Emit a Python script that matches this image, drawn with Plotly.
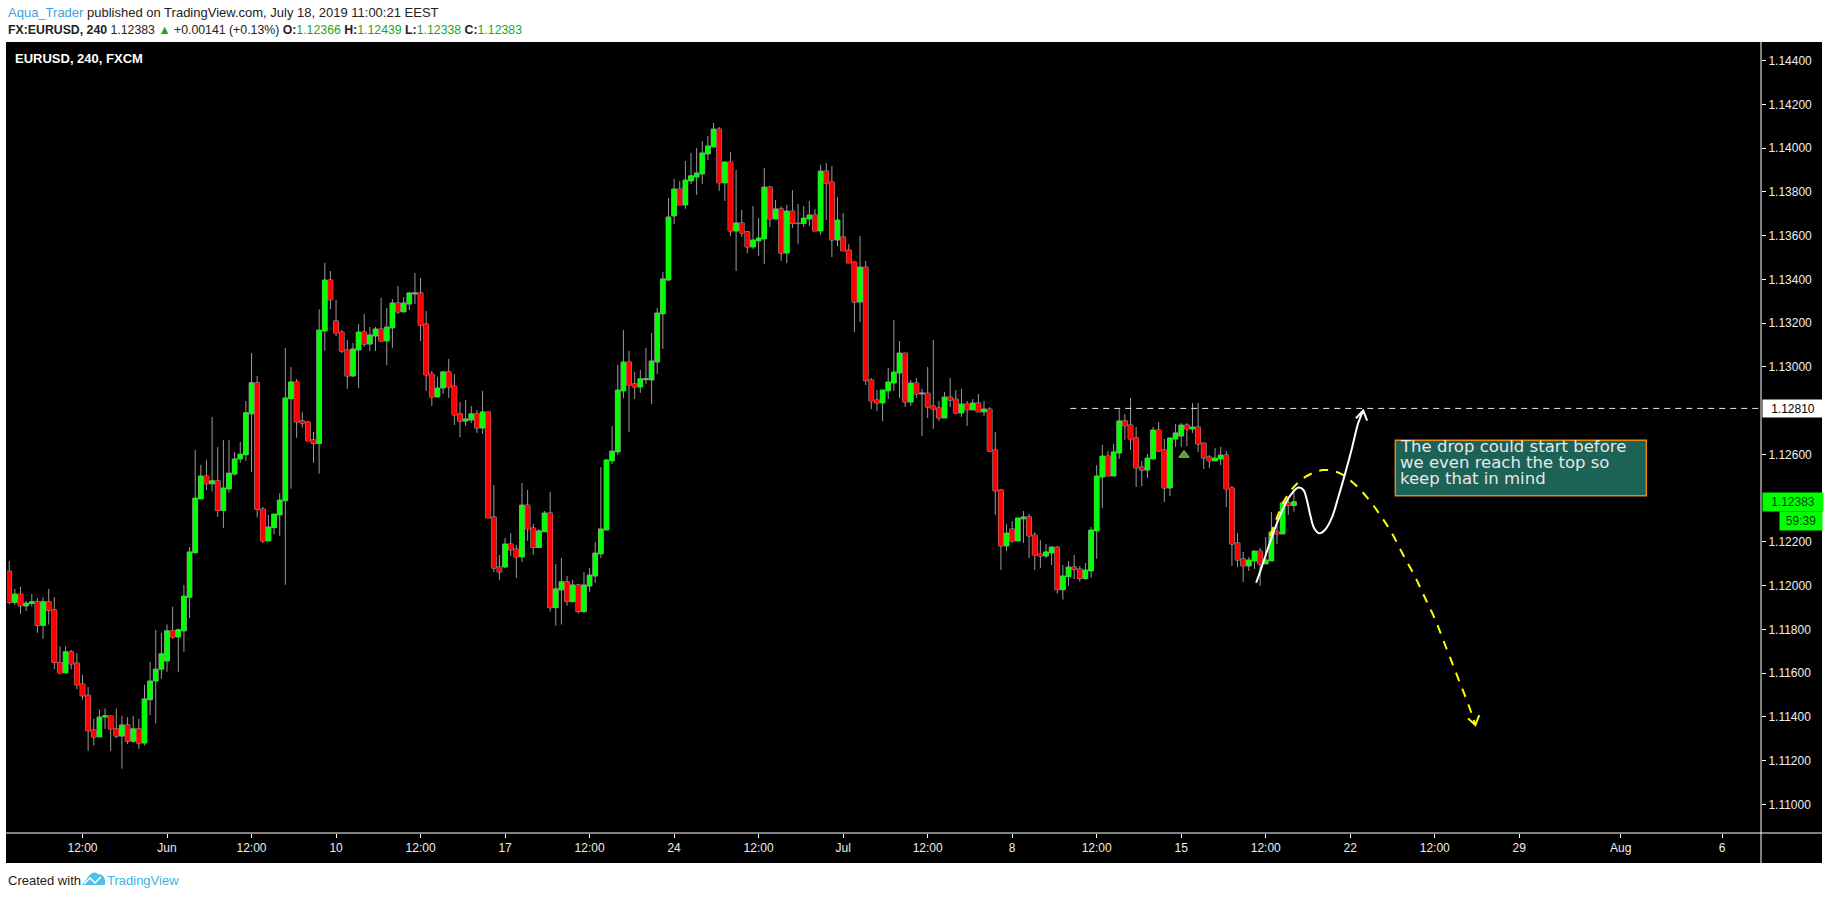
import plotly.graph_objects as go

# EURUSD 4h candles (FXCM), May 27 08:00 -> Jul 18 08:00 2019
opens = [
    1.12066, 1.11923, 1.11961, 1.11907, 1.11918, 1.11926, 1.11818, 1.11926, 1.11889, 1.11648,
    1.11601, 1.11697, 1.11646, 1.11550, 1.11499, 1.11340, 1.11308, 1.11399, 1.11404, 1.11345,
    1.11312, 1.11363, 1.11289, 1.11345, 1.11280, 1.11478, 1.11564, 1.11618, 1.11655, 1.11793,
    1.11765, 1.11793, 1.11947, 1.12150, 1.12396, 1.12501, 1.12465, 1.12479, 1.12343, 1.12442,
    1.12510, 1.12579, 1.12598, 1.12785, 1.12927, 1.12350, 1.12204, 1.12265, 1.12323, 1.12388,
    1.12854, 1.12931, 1.12753, 1.12748, 1.12666, 1.12649, 1.13164, 1.13397, 1.13210, 1.13159,
    1.13077, 1.12958, 1.13077, 1.13159, 1.13104, 1.13141, 1.13173, 1.13118, 1.13178, 1.13292,
    1.13251, 1.13287, 1.13333, 1.13338, 1.13196, 1.12967, 1.12862, 1.12903, 1.12977, 1.12912,
    1.12785, 1.12752, 1.12757, 1.12785, 1.12720, 1.12794, 1.12314, 1.12085, 1.12085, 1.12190,
    1.12167, 1.12131, 1.12368, 1.12263, 1.12174, 1.12246, 1.12332, 1.11899, 1.11980, 1.12017,
    1.11927, 1.12003, 1.11881, 1.11998, 1.12044, 1.12145, 1.12254, 1.12570, 1.12611, 1.12890,
    1.13022, 1.12922, 1.12908, 1.12941, 1.12940, 1.13022, 1.13242, 1.13397, 1.13690, 1.13813,
    1.13740, 1.13850, 1.13868, 1.13882, 1.13973, 1.14005, 1.14087, 1.13841, 1.13936, 1.13621,
    1.13658, 1.13617, 1.13548, 1.13576, 1.13585, 1.13822, 1.13676, 1.13722, 1.13520, 1.13712,
    1.13657, 1.13655, 1.13676, 1.13694, 1.13621, 1.13895, 1.13845, 1.13580, 1.13594, 1.13534,
    1.13479, 1.13296, 1.13456, 1.12940, 1.12848, 1.12835, 1.12890, 1.12926, 1.12972, 1.13063,
    1.12839, 1.12926, 1.12876, 1.12880, 1.12821, 1.12812, 1.12766, 1.12862, 1.12853, 1.12789,
    1.12830, 1.12803, 1.12835, 1.12794, 1.12807, 1.12620, 1.12437, 1.12181, 1.12259, 1.12204,
    1.12305, 1.12314, 1.12231, 1.12144, 1.12135, 1.12149, 1.12176, 1.11981, 1.12041, 1.12085,
    1.12076, 1.12032, 1.12067, 1.12250, 1.12496, 1.12592, 1.12501, 1.12606, 1.12753, 1.12734,
    1.12675, 1.12542, 1.12528, 1.12579, 1.12711, 1.12620, 1.12446, 1.12670, 1.12684, 1.12734,
    1.12716, 1.12725, 1.12652, 1.12588, 1.12570, 1.12579, 1.12597, 1.12446, 1.12195, 1.12122,
    1.12090, 1.12113, 1.12158, 1.12099, 1.12113, 1.12245, 1.12236, 1.12378, 1.12366,
]
highs = [
    1.12113, 1.11985, 1.11994, 1.11930, 1.11961, 1.11943, 1.11947, 1.11985, 1.11947, 1.11723,
    1.11723, 1.11706, 1.11692, 1.11592, 1.11536, 1.11391, 1.11433, 1.11438, 1.11405, 1.11438,
    1.11405, 1.11399, 1.11405, 1.11391, 1.11546, 1.11651, 1.11798, 1.11784, 1.11822, 1.11903,
    1.11804, 1.12003, 1.12176, 1.12620, 1.12552, 1.12575, 1.12771, 1.12633, 1.12666, 1.12666,
    1.12610, 1.12657, 1.12844, 1.13063, 1.12958, 1.12359, 1.12323, 1.12327, 1.12422, 1.13086,
    1.12999, 1.12944, 1.12794, 1.12753, 1.12702, 1.13263, 1.13475, 1.13438, 1.13306, 1.13168,
    1.13123, 1.13109, 1.13196, 1.13242, 1.13182, 1.13182, 1.13315, 1.13269, 1.13310, 1.13370,
    1.13319, 1.13342, 1.13429, 1.13406, 1.13255, 1.12981, 1.12954, 1.12981, 1.13036, 1.12967,
    1.12839, 1.12848, 1.12821, 1.12803, 1.12890, 1.12794, 1.12460, 1.12140, 1.12218, 1.12240,
    1.12186, 1.12469, 1.12437, 1.12282, 1.12259, 1.12341, 1.12428, 1.12099, 1.12126, 1.12044,
    1.12026, 1.12007, 1.12062, 1.12081, 1.12199, 1.12542, 1.12579, 1.12730, 1.13009, 1.13168,
    1.13073, 1.12977, 1.12986, 1.13086, 1.13155, 1.13269, 1.13434, 1.13772, 1.13859, 1.13850,
    1.13941, 1.13978, 1.14000, 1.14032, 1.14055, 1.14115, 1.14096, 1.13941, 1.13982, 1.13900,
    1.13717, 1.13621, 1.13735, 1.13681, 1.13909, 1.13827, 1.13763, 1.13735, 1.13740, 1.13808,
    1.13744, 1.13735, 1.13758, 1.13722, 1.13923, 1.13932, 1.13918, 1.13776, 1.13703, 1.13562,
    1.13484, 1.13598, 1.13484, 1.12949, 1.12894, 1.12894, 1.12995, 1.13214, 1.13118, 1.13063,
    1.12940, 1.12949, 1.12899, 1.12999, 1.13123, 1.12844, 1.12885, 1.12949, 1.12894, 1.12899,
    1.12844, 1.12853, 1.12876, 1.12844, 1.12816, 1.12702, 1.12442, 1.12282, 1.12295, 1.12309,
    1.12341, 1.12327, 1.12245, 1.12208, 1.12190, 1.12181, 1.12181, 1.12094, 1.12112, 1.12140,
    1.12090, 1.12103, 1.12268, 1.12551, 1.12643, 1.12615, 1.12647, 1.12807, 1.12784, 1.12858,
    1.12725, 1.12570, 1.12602, 1.12725, 1.12748, 1.12670, 1.12675, 1.12739, 1.12743, 1.12743,
    1.12835, 1.12835, 1.12652, 1.12597, 1.12629, 1.12634, 1.12615, 1.12455, 1.12240, 1.12154,
    1.12131, 1.12158, 1.12172, 1.12222, 1.12337, 1.12318, 1.12387, 1.12405, 1.12439,
]
lows = [
    1.11915, 1.11912, 1.11870, 1.11884, 1.11904, 1.11784, 1.11757, 1.11822, 1.11618, 1.11594,
    1.11598, 1.11618, 1.11526, 1.11479, 1.11244, 1.11269, 1.11308, 1.11345, 1.11244, 1.11303,
    1.11163, 1.11275, 1.11281, 1.11254, 1.11269, 1.11408, 1.11370, 1.11574, 1.11606, 1.11758,
    1.11606, 1.11697, 1.11852, 1.12150, 1.12396, 1.12437, 1.12430, 1.12314, 1.12264, 1.12425,
    1.12502, 1.12561, 1.12570, 1.12519, 1.12311, 1.12195, 1.12204, 1.12236, 1.12228, 1.12004,
    1.12443, 1.12676, 1.12722, 1.12661, 1.12562, 1.12512, 1.13074, 1.13264, 1.13141, 1.13063,
    1.12899, 1.12954, 1.12903, 1.13091, 1.13072, 1.13072, 1.13114, 1.13008, 1.13086, 1.13242,
    1.13251, 1.13260, 1.13287, 1.13118, 1.12890, 1.12821, 1.12862, 1.12876, 1.12858, 1.12734,
    1.12679, 1.12730, 1.12743, 1.12698, 1.12693, 1.12309, 1.12062, 1.12026, 1.12080, 1.12135,
    1.12035, 1.12108, 1.12204, 1.12141, 1.12174, 1.12246, 1.11881, 1.11817, 1.11822, 1.11908,
    1.11922, 1.11872, 1.11876, 1.11971, 1.12012, 1.12126, 1.12254, 1.12556, 1.12597, 1.12858,
    1.12702, 1.12853, 1.12881, 1.12922, 1.12830, 1.12967, 1.13082, 1.13392, 1.13653, 1.13740,
    1.13722, 1.13836, 1.13786, 1.13836, 1.13946, 1.14005, 1.13804, 1.13758, 1.13598, 1.13438,
    1.13594, 1.13520, 1.13539, 1.13507, 1.13470, 1.13639, 1.13676, 1.13484, 1.13475, 1.13635,
    1.13562, 1.13639, 1.13644, 1.13621, 1.13603, 1.13671, 1.13502, 1.13552, 1.13530, 1.13475,
    1.13159, 1.13205, 1.12917, 1.12807, 1.12798, 1.12752, 1.12853, 1.12890, 1.12858, 1.12816,
    1.12821, 1.12858, 1.12684, 1.12766, 1.12716, 1.12752, 1.12766, 1.12816, 1.12784, 1.12771,
    1.12730, 1.12803, 1.12794, 1.12775, 1.12611, 1.12323, 1.12071, 1.12158, 1.12195, 1.12204,
    1.12195, 1.12126, 1.12071, 1.12080, 1.12126, 1.12094, 1.11963, 1.11936, 1.11999, 1.12030,
    1.12018, 1.12026, 1.12036, 1.12122, 1.12355, 1.12501, 1.12501, 1.12579, 1.12666, 1.12620,
    1.12451, 1.12455, 1.12492, 1.12579, 1.12611, 1.12382, 1.12410, 1.12634, 1.12634, 1.12638,
    1.12698, 1.12611, 1.12533, 1.12538, 1.12570, 1.12551, 1.12359, 1.12090, 1.12085, 1.12017,
    1.12067, 1.12076, 1.11998, 1.12099, 1.12113, 1.12190, 1.12236, 1.12323, 1.12338,
]
closes = [
    1.11923, 1.11961, 1.11907, 1.11920, 1.11926, 1.11818, 1.11926, 1.11886, 1.11648, 1.11601,
    1.11697, 1.11642, 1.11546, 1.11496, 1.11336, 1.11308, 1.11399, 1.11405, 1.11345, 1.11312,
    1.11363, 1.11289, 1.11345, 1.11280, 1.11482, 1.11564, 1.11618, 1.11688, 1.11793, 1.11765,
    1.11798, 1.11952, 1.12154, 1.12400, 1.12501, 1.12465, 1.12479, 1.12343, 1.12446, 1.12514,
    1.12579, 1.12601, 1.12790, 1.12927, 1.12348, 1.12204, 1.12268, 1.12327, 1.12391, 1.12858,
    1.12931, 1.12748, 1.12743, 1.12661, 1.12649, 1.13168, 1.13397, 1.13306, 1.13155, 1.13072,
    1.12958, 1.13082, 1.13159, 1.13104, 1.13146, 1.13173, 1.13118, 1.13182, 1.13292, 1.13251,
    1.13292, 1.13338, 1.13338, 1.13191, 1.12963, 1.12862, 1.12903, 1.12977, 1.12908, 1.12780,
    1.12752, 1.12762, 1.12785, 1.12720, 1.12794, 1.12309, 1.12080, 1.12062, 1.12190, 1.12163,
    1.12131, 1.12368, 1.12259, 1.12174, 1.12250, 1.12332, 1.11899, 1.11985, 1.12017, 1.11927,
    1.12003, 1.11881, 1.12003, 1.12048, 1.12149, 1.12259, 1.12574, 1.12615, 1.12894, 1.13022,
    1.12917, 1.12908, 1.12945, 1.12946, 1.13027, 1.13246, 1.13402, 1.13685, 1.13813, 1.13740,
    1.13854, 1.13873, 1.13886, 1.13978, 1.14010, 1.14087, 1.13841, 1.13936, 1.13621, 1.13658,
    1.13612, 1.13548, 1.13580, 1.13589, 1.13822, 1.13676, 1.13722, 1.13520, 1.13712, 1.13655,
    1.13655, 1.13680, 1.13694, 1.13621, 1.13895, 1.13840, 1.13580, 1.13671, 1.13530, 1.13475,
    1.13296, 1.13456, 1.12937, 1.12844, 1.12835, 1.12894, 1.12931, 1.12976, 1.13063, 1.12839,
    1.12926, 1.12876, 1.12880, 1.12816, 1.12807, 1.12766, 1.12862, 1.12848, 1.12789, 1.12830,
    1.12803, 1.12835, 1.12794, 1.12807, 1.12615, 1.12433, 1.12181, 1.12240, 1.12204, 1.12309,
    1.12314, 1.12227, 1.12140, 1.12135, 1.12154, 1.12176, 1.11981, 1.12044, 1.12085, 1.12073,
    1.12032, 1.12071, 1.12254, 1.12501, 1.12592, 1.12501, 1.12611, 1.12753, 1.12730, 1.12670,
    1.12538, 1.12528, 1.12583, 1.12711, 1.12615, 1.12446, 1.12675, 1.12698, 1.12734, 1.12716,
    1.12725, 1.12647, 1.12583, 1.12570, 1.12583, 1.12597, 1.12442, 1.12190, 1.12117, 1.12090,
    1.12117, 1.12158, 1.12099, 1.12117, 1.12245, 1.12236, 1.12378, 1.12366, 1.12383,
]
bar_index = list(range(len(opens)))

# time scale labels (bar index -> label), future bars continue the same spacing
x_tick_pos = [13, 28, 43, 58, 73, 88, 103, 118, 133, 148, 163, 178, 193, 208, 223, 238, 253, 268, 286, 304]
x_tick_text = ["12:00", "Jun", "12:00", "10", "12:00", "17", "12:00", "24", "12:00", "Jul",
               "12:00", "8", "12:00", "15", "12:00", "22", "12:00", "29", "Aug", "6"]
# 1.12400 and 1.12800 sit under the price-scale labels, so they are not shown
y_tick_vals = [1.110, 1.112, 1.114, 1.116, 1.118, 1.120, 1.122, 1.126,
               1.130, 1.132, 1.134, 1.136, 1.138, 1.140, 1.142, 1.144]

# drawings
level_x = [188.3, 311.0]
level_y = [1.12810, 1.12810]
white_x = [221.3, 222.1, 223.1, 224.1, 225.1, 226.1, 227.3, 228.8, 229.7, 230.3,
           230.9, 231.6, 232.5, 233.5, 234.7, 235.9, 237.1, 238.3, 239.4, 240.3]
white_y = [1.12013, 1.12071, 1.12148, 1.12224, 1.12292, 1.12353, 1.12410, 1.12448, 1.12437, 1.12391,
           1.12323, 1.12262, 1.12239, 1.12254, 1.12308, 1.12406, 1.12513, 1.12628, 1.12742, 1.12800]
white_head_x = [239.0, 240.3, 241.0]
white_head_y = [1.12765, 1.12800, 1.12754]
yellow_x = [223.8, 226.8, 229.7, 233.2, 236.2, 238.6, 240.9, 243.3, 245.4,
            247.4, 249.5, 251.3, 253.1, 254.5, 256.0, 257.5, 259.0, 260.2]
yellow_y = [1.12228, 1.12410, 1.12491, 1.12528, 1.12513, 1.12468, 1.12406, 1.12323, 1.12239,
            1.12140, 1.12041, 1.11942, 1.11843, 1.11751, 1.11652, 1.11553, 1.11454, 1.11363]
yellow_head_x = [258.9, 260.2, 260.9]
yellow_head_y = [1.11393, 1.11363, 1.11408]
marker_x = [208.5]
marker_y = [1.12597]
note_lines = ["The drop could start before", "we even reach the top so", "keep that in mind"]
note_box_x = [246.0, 290.55]
note_box_y = [1.12411, 1.12664]
note_line_y = [1.12637, 1.12561, 1.12488]
last_price = "1.12383"
level_label = "1.12810"
countdown = "59:39"

W, H = 1828, 898
PL, PR, PT, PB = 7, 1761, 42, 833          # plot area in pixels
GREEN, RED, WICK = "#00ff00", "#ff0000", "#9a9a9a"
HEAD_FONT = "Liberation Sans Narrow, Liberation Sans, Arial, sans-serif"


def px(x):
    return (x - PL) / (PR - PL)


def py(y):
    return (PB - y) / (PB - PT)


fig = go.Figure()

# wicks (gray) underneath, then borderless coloured bodies on top
fig.add_trace(go.Candlestick(
    x=bar_index, open=opens, high=highs, low=lows, close=closes,
    increasing=dict(line=dict(color=WICK, width=1), fillcolor=WICK),
    decreasing=dict(line=dict(color=WICK, width=1), fillcolor=WICK),
    whiskerwidth=0, hoverinfo="skip", showlegend=False,
))
fig.add_trace(go.Candlestick(
    x=bar_index, open=opens, high=highs, low=lows, close=closes,
    increasing=dict(line=dict(color=GREEN, width=0), fillcolor=GREEN),
    decreasing=dict(line=dict(color=RED, width=0), fillcolor=RED),
    whiskerwidth=0, hoverinfo="skip", showlegend=False,
))

fig.add_trace(go.Scatter(x=level_x, y=level_y, mode="lines", hoverinfo="skip",
                         line=dict(color="#e8e8e8", width=1, dash="6px,5px"), showlegend=False))
fig.add_trace(go.Scatter(x=yellow_x, y=yellow_y, mode="lines", hoverinfo="skip",
                         line=dict(color="#ffff00", width=2, dash="9px,8px", shape="spline"),
                         showlegend=False))
fig.add_trace(go.Scatter(x=yellow_head_x, y=yellow_head_y, mode="lines", hoverinfo="skip",
                         line=dict(color="#ffff00", width=2), showlegend=False))
fig.add_trace(go.Scatter(x=white_x, y=white_y, mode="lines", hoverinfo="skip",
                         line=dict(color="#ffffff", width=2, shape="spline"), showlegend=False))
fig.add_trace(go.Scatter(x=white_head_x, y=white_head_y, mode="lines", hoverinfo="skip",
                         line=dict(color="#ffffff", width=2), showlegend=False))
fig.add_trace(go.Scatter(x=marker_x, y=marker_y, mode="markers", hoverinfo="skip",
                         marker=dict(symbol="triangle-up", size=9, color="#5f9a3a",
                                     line=dict(color="#8bc34a", width=1)),
                         showlegend=False))

shapes = [
    # dark chart panel
    dict(type="rect", xref="paper", yref="paper", x0=px(6), x1=px(1822), y0=py(863), y1=py(42),
         fillcolor="#000000", line=dict(width=0), layer="below"),
    dict(type="line", xref="paper", yref="paper", x0=px(PR), x1=px(PR), y0=py(863), y1=py(42),
         line=dict(color="#ffffff", width=1)),
    dict(type="line", xref="paper", yref="paper", x0=px(6), x1=px(1822), y0=py(PB), y1=py(PB),
         line=dict(color="#ffffff", width=1)),
    # note box
    dict(type="rect", xref="x", yref="y", x0=note_box_x[0], x1=note_box_x[1],
         y0=note_box_y[0], y1=note_box_y[1],
         fillcolor="#1d6257", line=dict(color="#e38b0c", width=1.5)),
    # TradingView logo mark in footer
    dict(type="path", xref="paper", yref="paper",
         path=(f"M {px(82)},{py(885)} L {px(88)},{py(877)} Q {px(93)},{py(870)} {px(98)},{py(874)} "
               f"Q {px(104)},{py(874)} {px(105)},{py(880)} L {px(105)},{py(885)} Z"),
         fillcolor="#4ec1ea", line=dict(width=0)),
    dict(type="path", xref="paper", yref="paper",
         path=f"M {px(84)},{py(884)} L {px(90)},{py(878)} L {px(95)},{py(883)} L {px(101)},{py(877)}",
         line=dict(color="#ffffff", width=1.5)),
]

ann = [
    dict(x=px(6), y=py(12),
         text="<span style='color:#3ba3e0'>Aqua_Trader</span> published on TradingView.com, July 18, 2019 11:00:21 EEST",
         font=dict(size=13, color="#222222", family=HEAD_FONT)),
    dict(x=px(6), y=py(30),
         text=("<b>FX:EURUSD, 240</b> 1.12383 <span style='color:#1fa51f'>▲</span> +0.00141 (+0.13%) "
               "<b>O:</b><span style='color:#1fa51f'>1.12366</span> <b>H:</b><span style='color:#1fa51f'>1.12439</span> "
               "<b>L:</b><span style='color:#1fa51f'>1.12338</span> <b>C:</b><span style='color:#1fa51f'>1.12383</span>"),
         font=dict(size=12.3, color="#222222", family=HEAD_FONT)),
    dict(x=px(13), y=py(58), text="<b>EURUSD, 240, FXCM</b>",
         font=dict(size=13, color="#ffffff", family=HEAD_FONT)),
    dict(x=px(6), y=py(880), text="Created with",
         font=dict(size=13, color="#222222", family=HEAD_FONT)),
    dict(x=px(105), y=py(880), text="TradingView",
         font=dict(size=13, color="#3bb3e4", family=HEAD_FONT)),
]
for a in ann:
    a.update(xref="paper", yref="paper", xanchor="left", yanchor="middle", showarrow=False)

# note text, one annotation per line for tight line spacing
for line, ly in zip(note_lines, note_line_y):
    ann.append(dict(xref="x", yref="y", x=note_box_x[0] + 0.45, y=ly, xanchor="left", yanchor="middle",
                    text=line, showarrow=False,
                    font=dict(size=16.5, color="#e8e8e8", family="DejaVu Sans, Verdana, sans-serif")))

# price-scale labels
ann += [
    dict(xref="paper", yref="y", x=px(PR + 1), y=1.12810, xanchor="left", yanchor="middle",
         text=level_label, showarrow=False, bgcolor="#ffffff", width=58, height=15, borderpad=1,
         align="center", font=dict(size=12, color="#000000", family="Liberation Sans, Arial")),
    dict(xref="paper", yref="y", x=px(PR + 1), y=1.12383, xanchor="left", yanchor="middle",
         text=last_price, showarrow=False, bgcolor=GREEN, width=58, height=16, borderpad=1,
         align="center", font=dict(size=12, color="#0b3d0b", family="Liberation Sans, Arial")),
    dict(xref="paper", yref="paper", x=px(1779), y=py(521), xanchor="left", yanchor="middle",
         text=countdown, showarrow=False, bgcolor=GREEN, width=40, height=16, borderpad=1,
         align="center", font=dict(size=12, color="#0b3d0b", family="Liberation Sans, Arial")),
]

fig.update_layout(
    width=W, height=H,
    margin=dict(l=PL, r=W - PR, t=PT, b=H - PB),
    paper_bgcolor="#ffffff", plot_bgcolor="#000000",
    boxgap=0.08, boxgroupgap=0.08, boxmode="overlay",
    hovermode=False, showlegend=False,
    shapes=shapes, annotations=ann,
    xaxis=dict(
        range=[-0.4, 310.9], rangeslider=dict(visible=False),
        tickmode="array", tickvals=x_tick_pos, ticktext=x_tick_text,
        ticks="outside", ticklen=4, tickcolor="#ffffff",
        tickfont=dict(size=12, color="#eeeeee", family="Liberation Sans Narrow, Liberation Sans, Arial"),
        showgrid=False, zeroline=False, showline=False,
    ),
    yaxis=dict(
        range=[1.10869, 1.14485], side="right",
        tickmode="array", tickvals=y_tick_vals, tickformat=".5f",
        ticks="outside", ticklen=4, tickcolor="#ffffff",
        tickfont=dict(size=12, color="#eeeeee", family="Liberation Sans, Arial"),
        showgrid=False, zeroline=False, showline=False,
    ),
)

fig.write_html("out.html", config={"displayModeBar": False},
               post_script="document.body.style.margin='0';document.body.style.overflow='hidden';")
